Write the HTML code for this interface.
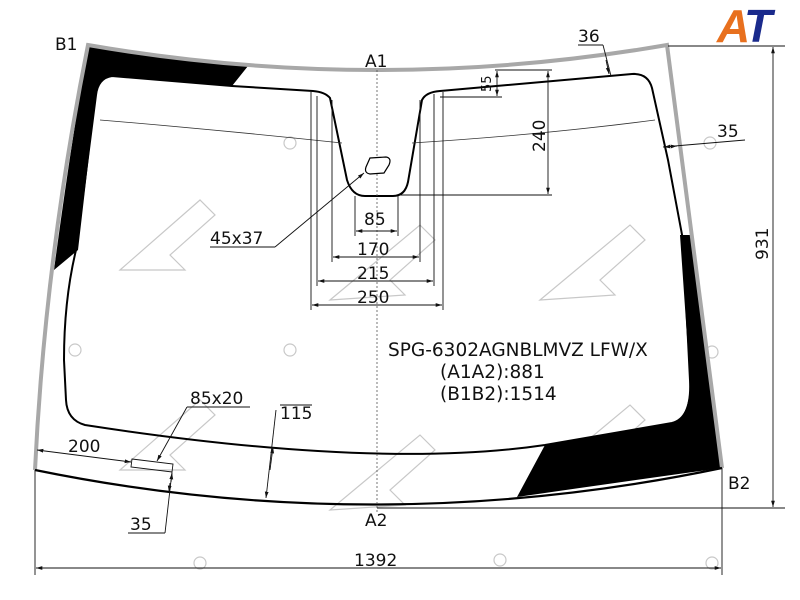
<!DOCTYPE html>
<html><head><meta charset="utf-8"><style>
html,body{margin:0;padding:0;background:#fff;}
svg{display:block;}
text{font-family:"DejaVu Sans","Liberation Sans",sans-serif;fill:#111;}
</style></head><body>
<svg width="800" height="600" viewBox="0 0 800 600" xmlns="http://www.w3.org/2000/svg">
<defs>
<marker id="ar" viewBox="0 0 10 10" refX="10" refY="5" markerWidth="7" markerHeight="7" orient="auto-start-reverse"><path d="M0,2 L10,5 L0,8 z" fill="#111"/></marker>
</defs>
<g stroke="#c8c8c8" stroke-width="1.2" fill="none">
<path d="M120,270 L200,200 L215,215 L170,255 L185,270 Z"/>
<path d="M330,300 L420,225 L435,240 L390,280 L405,295 Z"/>
<path d="M540,300 L630,225 L645,240 L600,280 L615,295 Z"/>
<path d="M120,470 L200,400 L215,415 L170,455 L185,470 Z"/>
<path d="M330,510 L420,435 L435,450 L390,490 L405,505 Z"/>
<path d="M540,480 L630,405 L645,420 L600,460 L615,475 Z"/>
<circle cx="80" cy="143" r="6"/><circle cx="290" cy="143" r="6"/><circle cx="710" cy="143" r="6"/>
<circle cx="75" cy="350" r="6"/><circle cx="290" cy="350" r="6"/><circle cx="712" cy="352" r="6"/>
<circle cx="500" cy="560" r="6"/><circle cx="712" cy="563" r="6"/><circle cx="200" cy="563" r="6"/>
</g>
<path d="M88,46 Q170,58 248,66 L232,86 L112,76 Q98,78 96,95 L78,250 L54,270 Q70,150 88,46 Z" fill="#000"/>
<path d="M680,235 L693,235 L722,468 Q620,482 517,497 L545,445 L672,423 Q690,418 690,380 Z" fill="#000"/>
<path d="M112,76 L232,86 L313,91 Q325,92 330,98 L347,180 Q352,196 365,196 L393,196 Q405,196 408,182 L422,100 Q426,92 440,91 L632,74 Q648,73 652,88 L668,160 L683,240 L690,380 Q692,418 672,423 L545,445 Q377,470 85,425 Q67,420 66,400 L64,360 Q64,300 76,250 L96,95 Q98,78 112,76 Z" fill="none" stroke="#000" stroke-width="2"/>
<path d="M35,470 Q45,260 88,45 Q377,95 667,45 L722,468" fill="none" stroke="#a8a8a8" stroke-width="4"/>
<path d="M35,470 Q377,540 722,468" fill="none" stroke="#000" stroke-width="2.2"/>
<path d="M100,120 Q220,130 342,143 M412,143 Q540,135 655,120" fill="none" stroke="#333" stroke-width="0.8"/>
<line x1="377" y1="70" x2="377" y2="512" stroke="#555" stroke-width="0.8" stroke-dasharray="2,2"/>
<path d="M370,158 L386,157 Q392,158 389,165 L384,173 L370,174 Q364,173 366,167 Z" fill="#fff" stroke="#000" stroke-width="1.2"/>
<g stroke="#111" stroke-width="0.9" fill="none">
<line x1="311" y1="92" x2="311" y2="310"/><line x1="443" y1="92" x2="443" y2="310"/>
<line x1="317" y1="96" x2="317" y2="286"/><line x1="434" y1="94" x2="434" y2="286"/>
<line x1="332" y1="100" x2="332" y2="262"/><line x1="420" y1="100" x2="420" y2="262"/>
<line x1="355" y1="196" x2="355" y2="236"/><line x1="398" y1="196" x2="398" y2="236"/>
<line x1="356" y1="231" x2="397" y2="231" marker-start="url(#ar)" marker-end="url(#ar)"/>
<line x1="333" y1="257" x2="419" y2="257" marker-start="url(#ar)" marker-end="url(#ar)"/>
<line x1="318" y1="281" x2="433" y2="281" marker-start="url(#ar)" marker-end="url(#ar)"/>
<line x1="312" y1="305" x2="442" y2="305" marker-start="url(#ar)" marker-end="url(#ar)"/>
<line x1="495" y1="70" x2="552" y2="70"/><line x1="440" y1="97" x2="502" y2="97"/>
<line x1="400" y1="195" x2="552" y2="195"/>
<line x1="497" y1="71" x2="497" y2="96" marker-start="url(#ar)" marker-end="url(#ar)"/>
<line x1="548" y1="71" x2="548" y2="194" marker-start="url(#ar)" marker-end="url(#ar)"/>
<line x1="578" y1="45" x2="603" y2="45"/><line x1="603" y1="45" x2="611" y2="76"/>
<line x1="606" y1="60" x2="609" y2="74" marker-end="url(#ar)"/>
<line x1="663" y1="147" x2="745" y2="140"/>
<line x1="664" y1="147" x2="677" y2="146" marker-start="url(#ar)" marker-end="url(#ar)"/>
<line x1="668" y1="46" x2="785" y2="46"/><line x1="377" y1="508" x2="785" y2="508"/>
<line x1="773" y1="47" x2="773" y2="507" marker-start="url(#ar)" marker-end="url(#ar)"/>
<line x1="210" y1="247" x2="275" y2="247"/><line x1="275" y1="247" x2="364" y2="173" marker-end="url(#ar)"/>
<line x1="35" y1="470" x2="35" y2="575"/><line x1="722" y1="468" x2="722" y2="575"/>
<line x1="36" y1="568" x2="721" y2="568" marker-start="url(#ar)" marker-end="url(#ar)"/>
<line x1="37" y1="450" x2="131" y2="462" marker-start="url(#ar)" marker-end="url(#ar)"/>
<path d="M132,459 L173,464 L172,472 L131,467 Z"/>
<line x1="187" y1="407" x2="250" y2="407"/><line x1="187" y1="407" x2="157" y2="461" marker-end="url(#ar)"/>
<line x1="172" y1="472" x2="165" y2="533"/><line x1="128" y1="533" x2="165" y2="533"/>
<line x1="171" y1="482" x2="172" y2="473" marker-end="url(#ar)"/>
<line x1="170" y1="483" x2="169" y2="492" marker-end="url(#ar)"/>
<line x1="280" y1="405" x2="312" y2="405"/>
<line x1="276" y1="410" x2="266" y2="498" marker-end="url(#ar)"/>
<line x1="270" y1="470" x2="273" y2="447" marker-end="url(#ar)"/>
</g>
<g font-size="17">
<text x="55" y="50">B1</text>
<text x="365" y="67">A1</text>
<text x="365" y="526">A2</text>
<text x="728" y="489">B2</text>
<text x="364" y="225">85</text>
<text x="357" y="255">170</text>
<text x="357" y="279">215</text>
<text x="357" y="303">250</text>
<text x="210" y="244">45x37</text>
<text x="578" y="42">36</text>
<text x="717" y="137">35</text>
<text x="190" y="404">85x20</text>
<text x="280" y="419">115</text>
<text x="68" y="452">200</text>
<text x="130" y="530">35</text>
<text x="354" y="566">1392</text>
<text transform="translate(491,92) rotate(-90)" font-size="13">55</text>
<text transform="translate(545,152) rotate(-90)">240</text>
<text transform="translate(768,260) rotate(-90)">931</text>
<text x="388" y="356" font-size="18.5">SPG-6302AGNBLMVZ LFW/X</text>
<text x="440" y="378" font-size="18.5">(A1A2):881</text>
<text x="440" y="400" font-size="18.5">(B1B2):1514</text>
</g>
<text x="717" y="42" font-size="46" font-weight="bold" font-style="italic" style="fill:#e8701e;font-family:'Liberation Sans',sans-serif">A</text>
<text x="744" y="42" font-size="46" font-weight="bold" font-style="italic" style="fill:#1a2a8c;font-family:'Liberation Sans',sans-serif">T</text>
</svg>
</body></html>
